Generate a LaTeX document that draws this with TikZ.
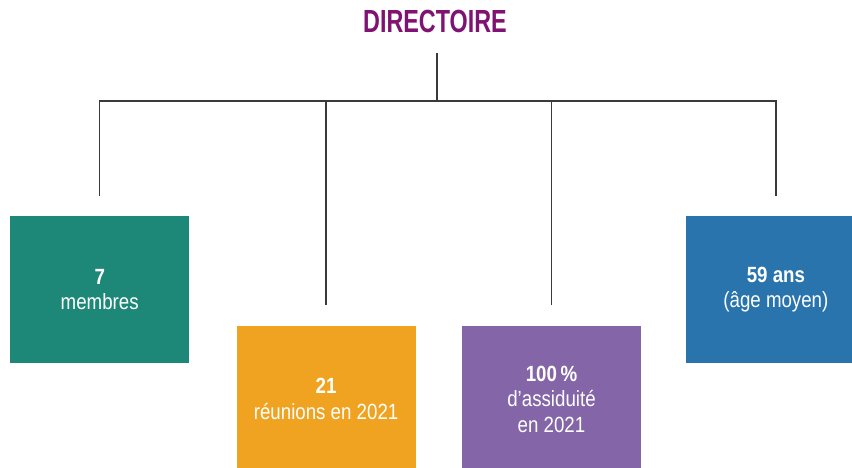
\documentclass[tikz,border=0pt]{standalone}
\usepackage{fontspec}
\setmainfont{Liberation Sans}[FakeStretch=0.85]
\newfontfamily\titlefont{Liberation Sans}[FakeStretch=0.73]
\usetikzlibrary{positioning}
\definecolor{dirpurple}{HTML}{7E1371}
\definecolor{linegray}{HTML}{3A3A3A}
\definecolor{tealbox}{HTML}{1E8878}
\definecolor{orangebox}{HTML}{EFA321}
\definecolor{purplebox}{HTML}{8466A8}
\definecolor{bluebox}{HTML}{2A74AE}
\begin{document}
\begin{tikzpicture}[x=1pt,y=-1pt,
    box/.style={minimum width=179pt, minimum height=147pt, inner sep=0pt,
      align=center, text=white, font=\fontsize{22}{25.5}\selectfont},
    link/.style={draw=linegray, line width=1.3pt}]
  \useasboundingbox (0,0) rectangle (852,468);
  \clip (0,0) rectangle (852,468);

  \node[font=\titlefont\bfseries\fontsize{32}{32}\selectfont, text=dirpurple,
    inner sep=0pt, anchor=base] (title) at (435,33) {DIRECTOIRE};
  \coordinate (stem) at (437,53);
  \coordinate (hub) at (437,101);

  \node[box, fill=tealbox, anchor=north west] (members) at (10,216) {\textbf{7}\\membres};
  \node[box, fill=orangebox, below right=-38pt and 47pt of members] (meetings) {\textbf{21}\\réunions en 2021};
  \node[box, fill=purplebox, right=46pt of meetings] (attendance) {\textbf{100\,\%}\\d’assiduité\\en 2021};
  \node[box, fill=bluebox, above right=-38pt and 45pt of attendance] (age) {\textbf{59 ans}\\(âge moyen)};

  \draw[link] (stem) -- (hub);
  \foreach \b in {members,meetings,attendance,age} {
    \coordinate (\b-end) at ([yshift=20pt]\b.north);
    \draw[link] (hub) -| (\b-end);
  }
\end{tikzpicture}
\end{document}
